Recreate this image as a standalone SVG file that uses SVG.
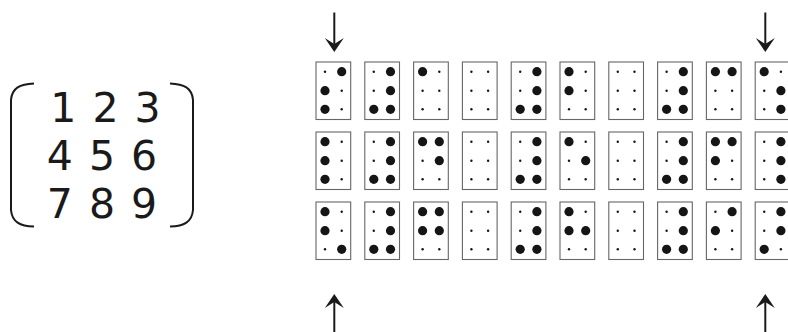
<svg xmlns="http://www.w3.org/2000/svg" xmlns:xlink="http://www.w3.org/1999/xlink" width="788" height="332" viewBox="0 0 788 332">
<style>
.box{fill:#fff;stroke:#666;stroke-width:1.1}
.big{fill:#151515}
.sm{fill:#151515}
.num{font-family:"DejaVu Sans",Verdana,sans-serif;font-size:41px;fill:#1a1a1a;text-anchor:middle;word-spacing:3px}
.br{fill:none;stroke:#1a1a1a;stroke-width:2}
.ar{stroke:#1a1a1a;stroke-width:2;fill:none}
.ah{fill:#1a1a1a}
</style>
<defs>
<g id="cell">
<rect class="box" x="0" y="0" width="34.7" height="57.5"/>
<circle class="sm" cx="9" cy="9.7" r="1.2"/><circle class="sm" cx="25.7" cy="9.7" r="1.2"/>
<circle class="sm" cx="9" cy="28.7" r="1.2"/><circle class="sm" cx="25.7" cy="28.7" r="1.2"/>
<circle class="sm" cx="9" cy="47.3" r="1.2"/><circle class="sm" cx="25.7" cy="47.3" r="1.2"/>
</g>
<circle id="TL" class="big" cx="9" cy="9.7" r="4.6"/>
<circle id="TR" class="big" cx="25.7" cy="9.7" r="4.6"/>
<circle id="ML" class="big" cx="9" cy="28.7" r="4.6"/>
<circle id="MR" class="big" cx="25.7" cy="28.7" r="4.6"/>
<circle id="BL" class="big" cx="9" cy="47.3" r="4.6"/>
<circle id="BR" class="big" cx="25.7" cy="47.3" r="4.6"/>
<path id="head" class="ah" d="M0 0 L-9.5 -14 Q-4 -10.5 0 -8 Q4 -10.5 9.5 -14 Z"/>
</defs>

<g id="matrix">
<path class="br" d="M34 83.5 C20 84 12 88 11 100 L11 210 C12 222 20 226 34 226.5"/>
<path class="br" d="M170 83.5 C184 84 192 88 193 100 L193 210 C192 222 184 226 170 226.5"/>
<text class="num" x="105.5" y="122">1 2 3</text>
<text class="num" x="102" y="170">4 5 6</text>
<text class="num" x="102" y="218">7 8 9</text>
</g>

<g id="row1">
<g id="r1c1" transform="translate(316,62)"><use href="#cell"/><use href="#TR"/><use href="#ML"/><use href="#BL"/></g>
<g id="r1c2" transform="translate(364.8,62)"><use href="#cell"/><use href="#TR"/><use href="#MR"/><use href="#BL"/><use href="#BR"/></g>
<g id="r1c3" transform="translate(413.6,62)"><use href="#cell"/><use href="#TL"/></g>
<g id="r1c4" transform="translate(462.4,62)"><use href="#cell"/></g>
<g id="r1c5" transform="translate(511.2,62)"><use href="#cell"/><use href="#TR"/><use href="#MR"/><use href="#BL"/><use href="#BR"/></g>
<g id="r1c6" transform="translate(560,62)"><use href="#cell"/><use href="#TL"/><use href="#ML"/></g>
<g id="r1c7" transform="translate(608.8,62)"><use href="#cell"/></g>
<g id="r1c8" transform="translate(657.6,62)"><use href="#cell"/><use href="#TR"/><use href="#MR"/><use href="#BL"/><use href="#BR"/></g>
<g id="r1c9" transform="translate(706.4,62)"><use href="#cell"/><use href="#TL"/><use href="#TR"/></g>
<g id="r1c10" transform="translate(755.2,62)"><use href="#cell"/><use href="#TL"/><use href="#MR"/><use href="#BR"/></g>
</g>

<g id="row2">
<g id="r2c1" transform="translate(316,132)"><use href="#cell"/><use href="#TL"/><use href="#ML"/><use href="#BL"/></g>
<g id="r2c2" transform="translate(364.8,132)"><use href="#cell"/><use href="#TR"/><use href="#MR"/><use href="#BL"/><use href="#BR"/></g>
<g id="r2c3" transform="translate(413.6,132)"><use href="#cell"/><use href="#TL"/><use href="#TR"/><use href="#MR"/></g>
<g id="r2c4" transform="translate(462.4,132)"><use href="#cell"/></g>
<g id="r2c5" transform="translate(511.2,132)"><use href="#cell"/><use href="#TR"/><use href="#MR"/><use href="#BL"/><use href="#BR"/></g>
<g id="r2c6" transform="translate(560,132)"><use href="#cell"/><use href="#TL"/><use href="#MR"/></g>
<g id="r2c7" transform="translate(608.8,132)"><use href="#cell"/></g>
<g id="r2c8" transform="translate(657.6,132)"><use href="#cell"/><use href="#TR"/><use href="#MR"/><use href="#BL"/><use href="#BR"/></g>
<g id="r2c9" transform="translate(706.4,132)"><use href="#cell"/><use href="#TL"/><use href="#TR"/><use href="#ML"/></g>
<g id="r2c10" transform="translate(755.2,132)"><use href="#cell"/><use href="#TR"/><use href="#MR"/><use href="#BR"/></g>
</g>

<g id="row3">
<g id="r3c1" transform="translate(316,202)"><use href="#cell"/><use href="#TL"/><use href="#ML"/><use href="#BR"/></g>
<g id="r3c2" transform="translate(364.8,202)"><use href="#cell"/><use href="#TR"/><use href="#MR"/><use href="#BL"/><use href="#BR"/></g>
<g id="r3c3" transform="translate(413.6,202)"><use href="#cell"/><use href="#TL"/><use href="#TR"/><use href="#ML"/><use href="#MR"/></g>
<g id="r3c4" transform="translate(462.4,202)"><use href="#cell"/></g>
<g id="r3c5" transform="translate(511.2,202)"><use href="#cell"/><use href="#TR"/><use href="#MR"/><use href="#BL"/><use href="#BR"/></g>
<g id="r3c6" transform="translate(560,202)"><use href="#cell"/><use href="#TL"/><use href="#ML"/><use href="#MR"/></g>
<g id="r3c7" transform="translate(608.8,202)"><use href="#cell"/></g>
<g id="r3c8" transform="translate(657.6,202)"><use href="#cell"/><use href="#TR"/><use href="#MR"/><use href="#BL"/><use href="#BR"/></g>
<g id="r3c9" transform="translate(706.4,202)"><use href="#cell"/><use href="#TR"/><use href="#ML"/></g>
<g id="r3c10" transform="translate(755.2,202)"><use href="#cell"/><use href="#TR"/><use href="#MR"/><use href="#BL"/></g>
</g>

<g id="arrows">
<line class="ar" x1="334.3" y1="12.5" x2="334.3" y2="46"/>
<use href="#head" transform="translate(334.3,52)"/>
<line class="ar" x1="765.3" y1="12.5" x2="765.3" y2="46"/>
<use href="#head" transform="translate(765.3,52)"/>
<line class="ar" x1="334.3" y1="300" x2="334.3" y2="332"/>
<use href="#head" transform="translate(334.3,294) rotate(180)"/>
<line class="ar" x1="765.3" y1="300" x2="765.3" y2="332"/>
<use href="#head" transform="translate(765.3,294) rotate(180)"/>
</g>
</svg>
